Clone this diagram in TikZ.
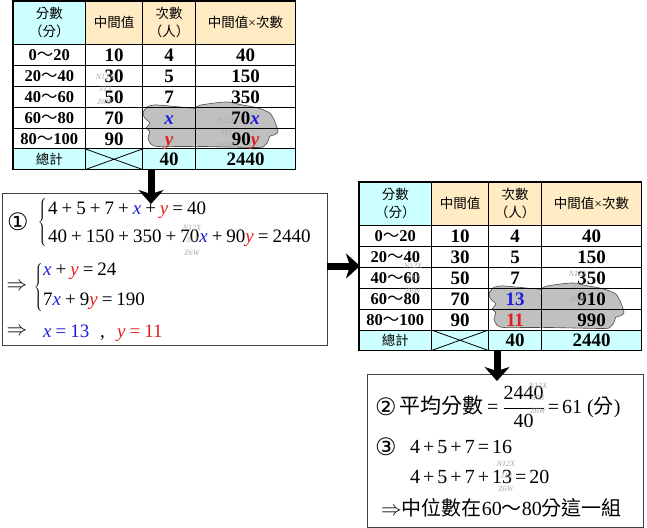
\documentclass[tikz,border=0pt]{standalone}
\usepackage{fontspec}
\setmainfont{Liberation Serif}
\newfontfamily\cjk{Noto Sans CJK TC}
\newfontfamily\dv{DejaVu Sans}
\usetikzlibrary{arrows.meta}
\definecolor{hcyan}{HTML}{CCFFFF}
\definecolor{hbeige}{HTML}{FFEBC4}
\definecolor{xblue}{HTML}{1C1CE0}
\definecolor{yred}{HTML}{E01E1E}
\definecolor{blobgray}{HTML}{C0C0C0}
\definecolor{wmgray}{HTML}{A8A8A8}
\newcommand\op[2][4bp]{\hspace{#1}#2\hspace{#1}}
\newcommand\vx{\textcolor{xblue}{\textit{x}}}
\newcommand\vy{\textcolor{yred}{\textit{y}}}
\newcommand\tl{{\cjk\mdseries ～}}
\newcommand\bigbrace{$\left\{\rule[-20bp]{0pt}{50bp}\right.$}
\tikzset{
 num/.style={font=\bfseries\fontsize{19bp}{19bp}\selectfont, inner sep=0, text height=13bp, text depth=0bp},
 rng/.style={font=\bfseries\fontsize{16.5bp}{16.5bp}\selectfont, inner sep=0, text height=11.5bp, text depth=0bp},
 hdr/.style={font=\cjk\fontsize{13.5bp}{18bp}\selectfont, align=center, inner sep=0},
 grid/.style={line width=1bp, black},
 outer/.style={line width=1.6bp, black},
 blob/.style={fill=blobgray, draw=black!70, line width=0.6bp},
 panel/.style={draw=black!75, line width=1.2bp, fill=white, inner sep=0, anchor=north west},
 bigarrow/.style={line width=7bp, -{Stealth[length=14bp,width=25bp,inset=4bp]}},
 wm/.style={font=\itshape\fontsize{8bp}{12.5bp}\selectfont, text=wmgray, align=center, inner sep=0},
 body/.style={font=\fontsize{19bp}{19bp}\selectfont, inner sep=0, anchor=base west},
 bodyb/.style={font=\fontsize{20bp}{20bp}\selectfont, inner sep=0, anchor=base west},
 circ/.style={font=\dv\fontsize{24bp}{24bp}\selectfont, inner sep=0},
}
% #1 prefix, #2 origin, #3 r4c2, #4 r4c3, #5 r5c2, #6 r5c3
\newcommand\freqtable[6]{%
\begin{scope}[shift={#2}]
 \fill[hcyan] (0,0) rectangle (72.5,43.5);
 \fill[hbeige] (72.5,0) rectangle (282.5,43.5);
 \fill[hcyan] (0,148) rectangle (282.5,168.5);
 \begin{scope}[shift={(129.5,106.5)}]
  \filldraw[blob] plot[smooth cycle, tension=0.45] coordinates {(2.2,2.2) (5.5,-1.2) (10.5,-2.2) (15.5,-2.5) (48.5,0.5) (52.2,0.5) (57.2,-2.2) (72.2,-4.5) (85.5,-5.5) (98.5,-2.8) (115.5,0.5) (127.2,5.5) (132.2,13.8) (135.5,23.8) (132.2,27.2) (127.2,28.8) (125.5,33.8) (122.2,38) (115.5,40) (62.2,39) (38.5,39) (15.5,39) (8.8,37) (5.5,31) (7.2,23.8) (3.8,20.5) (7.2,15.5) (2.2,10.5) (0.5,5.5)};
 \end{scope}
 \foreach \yy in {43.5,64.5,85.5,106.5,127.5,148} \draw[grid] (0,\yy) -- (282.5,\yy);
 \foreach \xx in {72.5,129.5,182.5} \draw[grid] (\xx,0) -- (\xx,168.5);
 \draw[outer] (0,0) rectangle (282.5,168.5);
 \draw[line width=0.8bp] (72.5,148) -- (129.5,168.5) (72.5,168.5) -- (129.5,148);
 \node[hdr] (#1h0) at (36.25,21.75) {分數\\（分）};
 \node[hdr] (#1h1) at (101,21.75) {中間值};
 \node[hdr] (#1h2) at (156,21.75) {次數\\（人）};
 \node[hdr] (#1h3) at (232.5,21.75) {中間值{\rmfamily ×}次數};
 \node[rng] (#1r1c0) at (36.25,54) {0\tl20};
 \node[rng] (#1r2c0) at (36.25,75) {20\tl40};
 \node[rng] (#1r3c0) at (36.25,96) {40\tl60};
 \node[rng] (#1r4c0) at (36.25,117) {60\tl80};
 \node[rng] (#1r5c0) at (36.25,137.75) {80\tl100};
 \node[num] (#1r1c1) at (101,54) {10};
 \node[num] (#1r2c1) at (101,75) {30};
 \node[num] (#1r3c1) at (101,96) {50};
 \node[num] (#1r4c1) at (101,117) {70};
 \node[num] (#1r5c1) at (101,137.75) {90};
 \node[num] (#1r1c2) at (156,54) {4};
 \node[num] (#1r2c2) at (156,75) {5};
 \node[num] (#1r3c2) at (156,96) {7};
 \node[num] (#1r4c2) at (156,117) {#3};
 \node[num] (#1r5c2) at (156,137.75) {#5};
 \node[num] (#1r1c3) at (232.5,54) {40};
 \node[num] (#1r2c3) at (232.5,75) {150};
 \node[num] (#1r3c3) at (232.5,96) {350};
 \node[num] (#1r4c3) at (232.5,117) {#4};
 \node[num] (#1r5c3) at (232.5,137.75) {#6};
 \node[hdr] (#1t0) at (36.25,158.25) {總計};
 \node[num] (#1t2) at (156,158.25) {40};
 \node[num] (#1t3) at (232.5,158.25) {2440};
\end{scope}}
\newcommand\wmark[2]{\node[wm] (#1) at #2 {N12X\\313\\Z6W};}
\begin{document}
\begin{tikzpicture}[x=1bp,y=-1bp]
\useasboundingbox (0,0) rectangle (647,528);
% tables
\freqtable{ta}{(13,1)}{\vx}{70\vx}{\vy}{90\vy}
\freqtable{tb}{(359,182)}{\textcolor{xblue}{13}}{910}{\textcolor{yred}{11}}{990}
% panels
\node[panel, minimum width=325bp, minimum height=152bp] (b1) at (2,193) {};
\node[panel, minimum width=276bp, minimum height=153bp] (b3) at (367,374) {};
% arrows
\coordinate (a1s) at (151,170);
\coordinate (a1e) at (151,204);
\coordinate (a2s) at (327,266);
\coordinate (a2e) at (360,266);
\coordinate (a3s) at (497,350);
\coordinate (a3e) at (497,381);
\draw[bigarrow] (a1s) -- (a1e);
\draw[bigarrow] (a2s) -- (a2e);
\draw[bigarrow] (a3s) -- (a3e);
% panel 1 text
\node[circ] (c1) at (18,222) {①};
\node[inner sep=0, font=\fontsize{19bp}{19bp}\selectfont] (br1) at (43,223) {\bigbrace};
\node[body] (e1) at (48,215) {4\op{+}5\op{+}7\op{+}\vx\op{+}\vy\op{=}40};
\node[body] (e2) at (48,243) {40\op{+}150\op{+}350\op{+}70\vx\op{+}90\vy\op{=}2440};
\node[inner sep=0, font=\fontsize{19bp}{19bp}\selectfont] (ar1) at (17,287) {$\Rightarrow$};
\node[inner sep=0, font=\fontsize{19bp}{19bp}\selectfont] (br2) at (39,288) {\bigbrace};
\node[body] (e3) at (43,275) {\vx\op{+}\vy\op{=}24};
\node[body] (e4) at (43,305) {7\vx\op{+}9\vy\op{=}190};
\node[inner sep=0, font=\fontsize{19bp}{19bp}\selectfont] (ar2) at (17,332) {$\Rightarrow$};
\node[body] (e5) at (43,337) {\textcolor{xblue}{\textit{x}\op{=}13}};
\node[body] (e6) at (100,337) {,};
\node[body] (e7) at (117,337) {\textcolor{yred}{\textit{y}\op{=}11}};
% panel 3 text
\node[circ] (c2) at (386,407) {②};
\node[inner sep=0, anchor=west, font=\fontsize{20bp}{20bp}\selectfont] (mean) at (399,407) {{\cjk\fontsize{21bp}{21bp}\selectfont 平均分數}\op[4bp]{=}$\displaystyle\frac{\mbox{2440}}{\mbox{40}}$\op[3bp]{=}61\hspace{5bp}({\cjk 分})};
\node[circ] (c3) at (386,447) {③};
\node[bodyb] (s1) at (410,453) {4\op[3bp]{+}5\op[3bp]{+}7\op[3bp]{=}16};
\node[bodyb] (s2) at (410,483) {4\op[3bp]{+}5\op[3bp]{+}7\op[3bp]{+}13\op[3bp]{=}20};
\node[inner sep=0, anchor=west, font=\fontsize{20bp}{20bp}\selectfont] (s3) at (381,508) {$\Rightarrow${\cjk 中位數在}60{\cjk ～}80{\cjk 分這一組}};
% watermarks
\wmark{wm1}{(105,89)}
\wmark{wm2}{(226,133)}
\wmark{wm3}{(192,240)}
\wmark{wm4}{(413,278)}
\wmark{wm5}{(578,286)}
\wmark{wm6}{(538,398)}
\wmark{wm7}{(506,476)}
\end{tikzpicture}
\end{document}
